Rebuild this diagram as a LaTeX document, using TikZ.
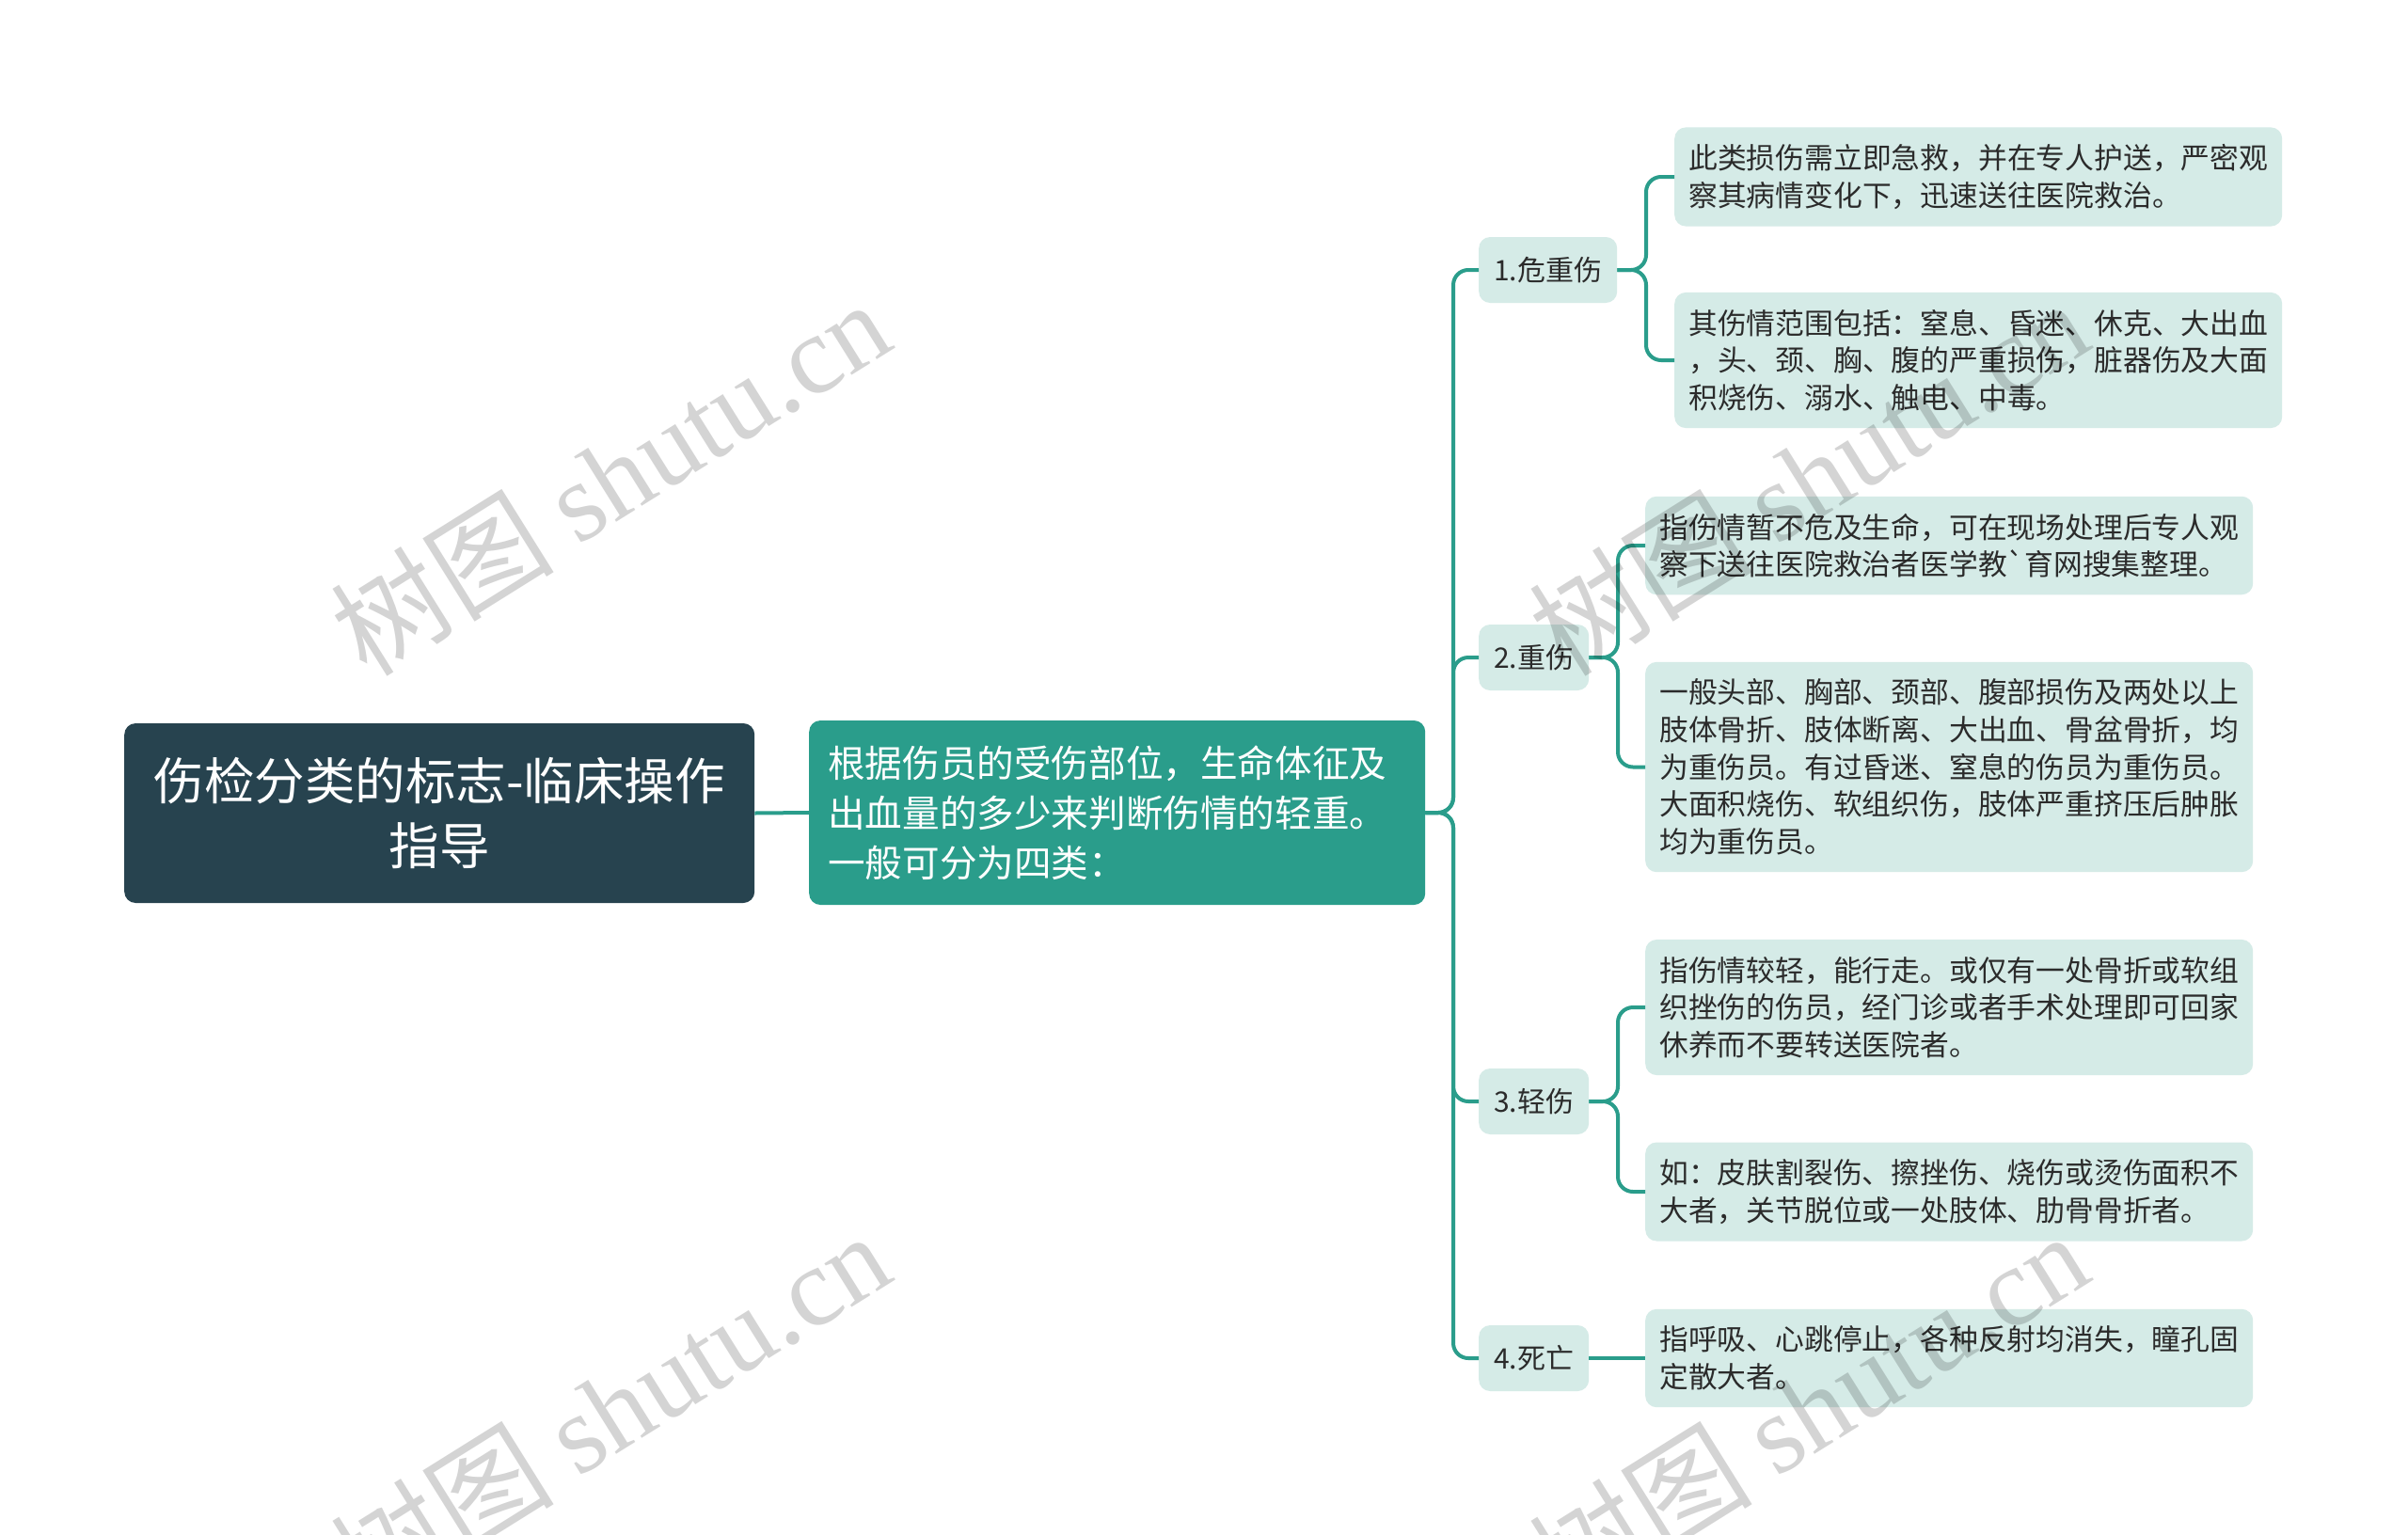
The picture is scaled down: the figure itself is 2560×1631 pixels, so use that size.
\documentclass[tikz,border=0pt]{standalone}
\usepackage{fontspec}
\setmainfont{Noto Sans CJK SC}
\newfontfamily\cjkraw{Noto Sans CJK SC}
\newfontfamily\wmlat{Liberation Serif}
\definecolor{rootc}{HTML}{27434F}
\definecolor{midc}{HTML}{2A9D8B}
\definecolor{leafc}{HTML}{D5EBE7}
\definecolor{linec}{HTML}{2A9D8B}
\definecolor{txtc}{HTML}{2B2B2B}
\tikzset{
  rootbox/.style={fill=rootc, rounded corners=12pt, text=white, align=center,
    minimum width=670pt, minimum height=191pt, anchor=west,
    font=\fontsize{53.5}{69}\selectfont},
  midbox/.style={fill=midc, rounded corners=12pt, text=white, align=left,
    text width=615pt, inner xsep=20pt, minimum height=196pt, anchor=west,
    font=\fontsize{39.6}{53}\selectfont},
  catbox/.style={fill=leafc, rounded corners=12pt, text=txtc,
    inner xsep=16pt, minimum height=70pt, anchor=west,
    font=\fontsize{30}{38}\selectfont},
  leafbox/.style={fill=leafc, rounded corners=12pt, text=txtc, align=left,
    text width=616pt, inner xsep=15pt, inner ysep=18pt, anchor=west,
    font=\fontsize{30.8}{39.7}\selectfont},
  conn/.style={draw=linec, line width=4pt, rounded corners=16pt},
  wm/.style={rotate=32, anchor=base, text=black, text opacity=0.17,
    font=\fontsize{119}{124}\selectfont}
}
\begin{document}
\begin{tikzpicture}[x=1pt, y=-1pt]
\useasboundingbox (0,0) rectangle (2560,1631);
\fill[white] (0,0) rectangle (2560,1631);

\node[rootbox] (root) at (132,864.5) {伤检分类的标志-临床操作\\指导};
\node[midbox] (mid) at (860,864) {根据伤员的受伤部位，生命体征及\\出血量的多少来判断伤情的轻重。\\一般可分为四类：};

\node[catbox] (n1) at (1572,287) {1.危重伤};
\node[catbox] (n2) at (1572,699) {2.重伤};
\node[catbox] (n3) at (1572,1171) {3.轻伤};
\node[catbox] (n4) at (1572,1444) {4.死亡};

\node[leafbox] (l1a) at (1780,188) {此类损伤需立即急救，并在专人护送，严密观\\察其病情变化下，迅速送往医院救治。};
\node[leafbox] (l1b) at (1780,383) {其伤情范围包括：窒息、昏迷、休克、大出血\\，头、颈、胸、腹的严重损伤，脏器伤及大面\\积烧伤、溺水、触电、中毒。};
\node[leafbox] (l2a) at (1749,580) {指伤情暂不危及生命，可在现场处理后专人观\\察下送往医院救治者医学教{\cjkraw `}育网搜集整理。};
\node[leafbox] (l2b) at (1749,815.5) {一般头部、胸部、颈部、腹部损伤及两处以上\\肢体骨折、肢体断离、大出血、骨盆骨折，均\\为重伤员。有过昏迷、窒息的伤员为重伤员。\\大面积烧伤、软组织伤，肢体严重挤压后肿胀\\均为重伤员。};
\node[leafbox] (l3a) at (1749,1071) {指伤情较轻，能行走。或仅有一处骨折或软组\\织挫伤的伤员，经门诊或者手术处理即可回家\\休养而不要转送医院者。};
\node[leafbox] (l3b) at (1749,1267) {如：皮肤割裂伤、擦挫伤、烧伤或烫伤面积不\\大者，关节脱位或一处肢体、肋骨骨折者。};
\node[leafbox] (l4) at (1749,1444) {指呼吸、心跳停止，各种反射均消失，瞳孔固\\定散大者。};

\coordinate (t) at (1545,864);
\coordinate (b1) at (1750,287);
\coordinate (b2) at (1720,699);
\coordinate (b3) at (1720,1171);

\draw[conn] (root.east) -- (mid.west);
\draw[conn] (mid.east) -- (t) |- (n1.west);
\draw[conn] (mid.east) -- (t) |- (n2.west);
\draw[conn] (mid.east) -- (t) |- (n3.west);
\draw[conn] (mid.east) -- (t) |- (n4.west);

\draw[conn] (n1.east) -- (b1) |- (l1a.west);
\draw[conn] (n1.east) -- (b1) |- (l1b.west);
\draw[conn] (n2.east) -- (b2) |- (l2a.west);
\draw[conn] (n2.east) -- (b2) |- (l2b.west);
\draw[conn] (n3.east) -- (b3) |- (l3a.west);
\draw[conn] (n3.east) -- (b3) |- (l3b.west);
\draw[conn] (n4.east) -- (l4.west);

\node[wm] (w1) at (672,545) {树图 {\wmlat shutu.cn}};
\node[wm] (w2) at (1946,545) {树图 {\wmlat shutu.cn}};
\node[wm] (w3) at (672,1536) {树图 {\wmlat shutu.cn}};
\node[wm] (w4) at (1946,1536) {树图 {\wmlat shutu.cn}};
\end{tikzpicture}
\end{document}
